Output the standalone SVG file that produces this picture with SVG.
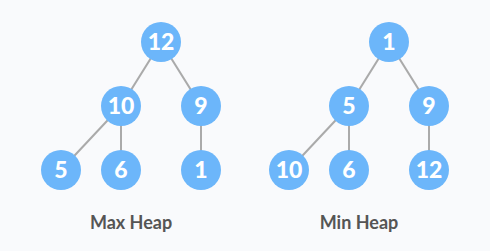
<svg xmlns="http://www.w3.org/2000/svg" width="490" height="251" viewBox="0 0 490 251">
<style>
.n circle{fill:#6cb6fa}
.n text{font-family:Lato,"Noto Sans",sans-serif;font-weight:900;font-size:23px;fill:#fff;text-anchor:middle}
.e line{stroke:#aaaaaa;stroke-width:2}
.lbl{font-family:Lato,"Noto Sans",sans-serif;font-weight:700;font-size:18px;fill:#555;text-anchor:middle}
</style>
<rect width="490" height="251" fill="#f9fafc"/>
<g id="connectors" class="e">
<line x1="161" y1="42" x2="121" y2="106"/>
<line x1="161" y1="42" x2="201" y2="106"/>
<line x1="121" y1="106" x2="61" y2="170"/>
<line x1="121" y1="106" x2="121" y2="170"/>
<line x1="201" y1="106" x2="201" y2="170"/>
<line x1="389" y1="42" x2="349" y2="106"/>
<line x1="389" y1="42" x2="429" y2="106"/>
<line x1="349" y1="106" x2="289" y2="170"/>
<line x1="349" y1="106" x2="349" y2="170"/>
<line x1="429" y1="106" x2="429" y2="170"/>
</g>
<g id="max12" class="n"><circle cx="161" cy="42" r="20"/><text x="161" y="50">12</text></g>
<g id="max10" class="n"><circle cx="121" cy="106" r="20"/><text x="121" y="114">10</text></g>
<g id="max9" class="n"><circle cx="201" cy="106" r="20"/><text x="201" y="114">9</text></g>
<g id="max5" class="n"><circle cx="61" cy="170" r="20"/><text x="61" y="178">5</text></g>
<g id="max6" class="n"><circle cx="121" cy="170" r="20"/><text x="121" y="178">6</text></g>
<g id="max1" class="n"><circle cx="201" cy="170" r="20"/><text x="201" y="178">1</text></g>
<g id="min1" class="n"><circle cx="389" cy="42" r="20"/><text x="389" y="50">1</text></g>
<g id="min5" class="n"><circle cx="349" cy="106" r="20"/><text x="349" y="114">5</text></g>
<g id="min9" class="n"><circle cx="429" cy="106" r="20"/><text x="429" y="114">9</text></g>
<g id="min10" class="n"><circle cx="289" cy="170" r="20"/><text x="289" y="178">10</text></g>
<g id="min6" class="n"><circle cx="349" cy="170" r="20"/><text x="349" y="178">6</text></g>
<g id="min12" class="n"><circle cx="429" cy="170" r="20"/><text x="429" y="178">12</text></g>
<g id="labels">
<text class="lbl" x="131" y="229">Max Heap</text>
<text class="lbl" x="359" y="229">Min Heap</text>
</g>
</svg>
